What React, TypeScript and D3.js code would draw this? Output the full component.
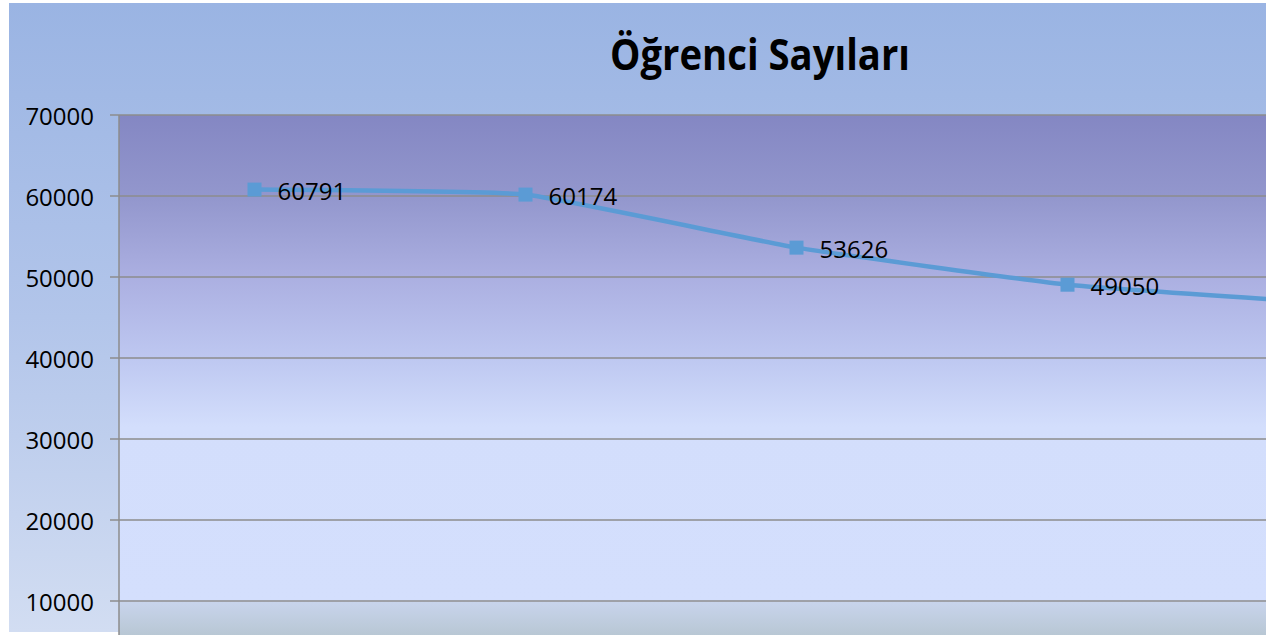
import { useMemo } from 'react';
import * as d3 from 'd3';

// Student counts per period (x-axis category labels are cropped off in the reference)
const categories = ['1', '2', '3', '4', '5'];
const students = [60791, 60174, 53626, 49050, 46700];
const showLabel = [true, true, true, true, false];
const yTicks = [10000, 20000, 30000, 40000, 50000, 60000, 70000];

const W = 1276;
const H = 635;
const plotLeft = 119;
const plotTop = 115;
const plotRight = 1266;
const step = 271;

export default function App() {
  const x = useMemo(
    () =>
      d3
        .scalePoint<string>()
        .domain(categories)
        .range([plotLeft, plotLeft + step * categories.length])
        .padding(0.5),
    []
  );
  const y = useMemo(() => d3.scaleLinear().domain([0, 70000]).range([682, plotTop]), []);

  const line = d3
    .line<number>()
    .x((_, i) => x(categories[i]) as number)
    .y((d) => y(d))
    .curve(d3.curveCardinal.tension(0.65));

  const font = '"Open Sans", "Noto Sans", sans-serif';

  return (
    <div style={{ position: 'fixed', left: 0, top: 0 }}>
      <svg width={W} height={H} style={{ display: 'block' }}>
        <defs>
          <linearGradient id="outerBg" x1="0" y1="0" x2="0" y2="1">
            <stop offset="0" stopColor="#9ab4e3" />
            <stop offset="0.5" stopColor="#b2c5ea" />
            <stop offset="1" stopColor="#d2ddf2" />
          </linearGradient>
          <linearGradient id="plotBg" gradientUnits="userSpaceOnUse" x1="0" y1={plotTop} x2="0" y2={H}>
            <stop offset="0" stopColor="#8487c3" />
            <stop offset="0.16" stopColor="#9397cd" />
            <stop offset="0.31" stopColor="#abafe1" />
            <stop offset="0.47" stopColor="#bec8f1" />
            <stop offset="0.6" stopColor="#d3defc" />
            <stop offset="0.935" stopColor="#d4dffd" />
            <stop offset="0.937" stopColor="#c8d4ec" />
            <stop offset="1" stopColor="#b8c7d4" />
          </linearGradient>
          <clipPath id="plotClip">
            <rect x={plotLeft} y={plotTop - 10} width={plotRight - plotLeft} height={H - plotTop + 10} />
          </clipPath>
        </defs>

        <rect x={0} y={0} width={W} height={H} fill="#ffffff" />
        <rect x={9} y={3} width={plotRight - 9} height={629} fill="url(#outerBg)" />
        <rect x={plotLeft} y={plotTop} width={plotRight - plotLeft} height={H - plotTop} fill="url(#plotBg)" />

        <text
          x={760}
          y={70}
          textAnchor="middle"
          fontFamily={font}
          fontWeight="bold"
          fontSize={43}
          textLength={300}
          lengthAdjust="spacingAndGlyphs"
          fill="#000"
        >
          Öğrenci Sayıları
        </text>

        {yTicks.map((t) => (
          <g key={t}>
            <line x1={110} x2={plotRight} y1={y(t)} y2={y(t)} stroke="#8c8c8c" strokeWidth={1.5} />
            <text
              x={94}
              y={y(t)}
              textAnchor="end"
              dominantBaseline="central"
              fontFamily={font}
              fontSize={24}
              fill="#000"
            >
              {t}
            </text>
          </g>
        ))}
        <line x1={plotLeft} x2={plotLeft} y1={plotTop} y2={H} stroke="#8c8c8c" strokeWidth={1.5} />

        <g clipPath="url(#plotClip)">
          <path d={line(students) ?? ''} fill="none" stroke="#5b9bd5" strokeWidth={4.5} />
          {students.map((v, i) => (
            <rect
              key={i}
              x={(x(categories[i]) as number) - 7}
              y={y(v) - 7}
              width={14}
              height={14}
              fill="#5b9bd5"
            />
          ))}
          {students.map((v, i) =>
            showLabel[i] ? (
              <text
                key={'l' + i}
                x={(x(categories[i]) as number) + 23}
                y={y(v) + 1}
                dominantBaseline="central"
                fontFamily={font}
                fontSize={24}
                fill="#000"
              >
                {v}
              </text>
            ) : null
          )}
        </g>
      </svg>
    </div>
  );
}
